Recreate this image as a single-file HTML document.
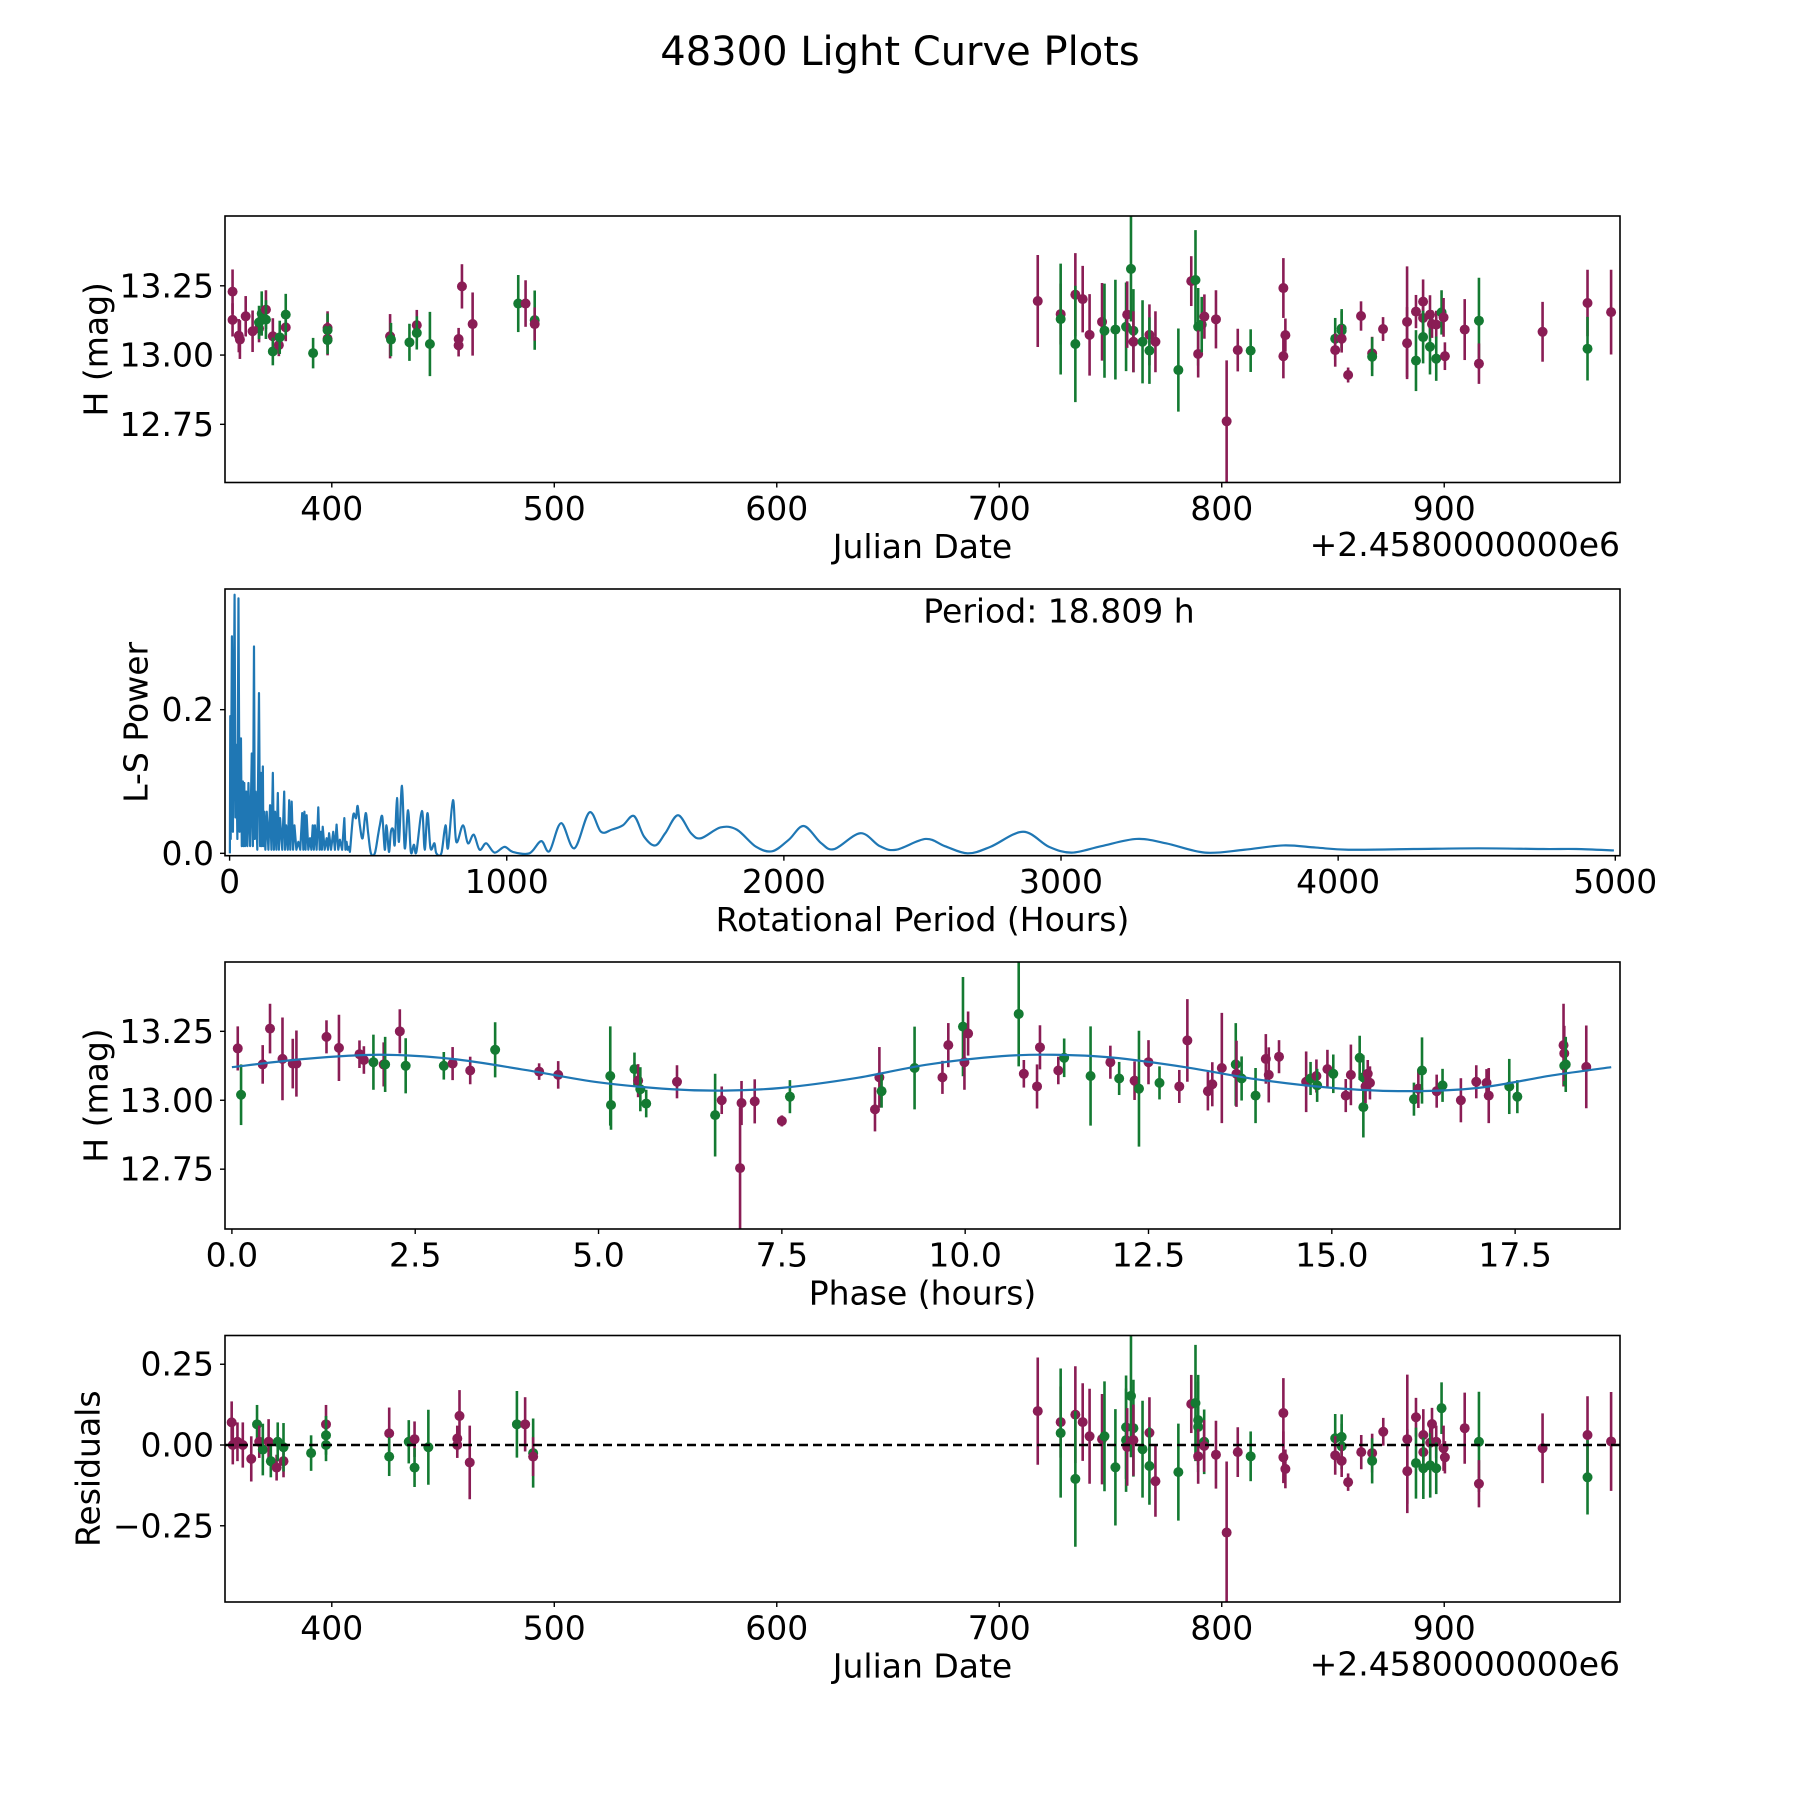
<!DOCTYPE html>
<html><head><meta charset="utf-8"><title>48300 Light Curve Plots</title>
<style>
html,body{margin:0;padding:0;background:#fff;}
svg{display:block;font-family:"DejaVu Sans","Liberation Sans",sans-serif;}
</style></head>
<body>
<svg id="fig" xmlns="http://www.w3.org/2000/svg" width="1800" height="1800" viewBox="0 0 1800 1800">
<rect x="0" y="0" width="1800" height="1800" fill="#fff"/>
<text x="900" y="52" font-size="40" text-anchor="middle" dominant-baseline="central">48300 Light Curve Plots</text>
</svg>
<script>
// ---- Panel 1: raw light curve (JD offset from 2458000) ----
const jd=[355.4,355.4,358.2,358.7,361.3,364.4,367.3,367.3,368.5,370.4,370.4,373.5,373.5,376.2,376.6,379.3,379.3,391.6,398.1,398.1,398.1,398.1,426.2,426.6,434.9,438.2,438.2,444.1,457,457,458.5,463.3,483.8,487.1,491.2,491.2,
717.3,727.6,727.6,734.2,734.2,737.5,740.6,746.2,747.3,752.2,757,757.5,759.2,760.3,760.3,764.4,767.5,767.5,770.2,780.5,786.3,788.2,789.4,789.4,791,792.2,797.4,802.2,807.2,813,827.7,828.6,827.7,851,851,853.9,853.9,853.9,856.8,862.6,867.6,867.6,872.5,883.3,883.3,887.3,887.3,890.5,890.5,890.5,893.6,893.6,894.5,896.4,896.4,898.8,899.7,900.3,909.2,915.6,915.6,944.2,964.4,964.4,975];
const mag=[13.229,13.127,13.07,13.056,13.14,13.086,13.096,13.118,13.15,13.164,13.128,13.068,13.013,13.036,13.064,13.1,13.146,13.007,13.098,13.09,13.059,13.054,13.068,13.056,13.046,13.108,13.08,13.04,13.058,13.035,13.248,13.112,13.186,13.186,13.126,13.112,
13.195,13.148,13.13,13.218,13.04,13.202,13.073,13.12,13.088,13.092,13.102,13.146,13.311,13.088,13.048,13.048,13.073,13.016,13.048,12.946,13.267,13.271,13.102,13.004,13.11,13.139,13.129,12.761,13.018,13.016,13.242,13.072,12.996,13.059,13.018,13.096,13.088,13.059,12.928,13.141,13.006,12.994,13.094,13.12,13.043,13.157,12.98,13.193,13.134,13.065,13.146,13.03,13.112,13.11,12.987,13.154,13.136,12.996,13.092,13.124,12.969,13.084,13.188,13.023,13.155];
const err=[0.08,0.06,0.06,0.07,0.073,0.075,0.05,0.06,0.08,0.07,0.07,0.065,0.05,0.04,0.06,0.05,0.075,0.055,0.06,0.06,0.06,0.05,0.08,0.06,0.067,0.055,0.06,0.116,0.04,0.04,0.08,0.114,0.103,0.084,0.107,0.06,
0.166,0.11,0.2,0.15,0.21,0.12,0.147,0.14,0.17,0.18,0.16,0.12,0.19,0.15,0.11,0.15,0.11,0.12,0.11,0.15,0.09,0.18,0.14,0.085,0.1,0.08,0.105,0.22,0.077,0.077,0.108,0.06,0.08,0.075,0.06,0.07,0.07,0.05,0.027,0.053,0.06,0.07,0.043,0.2,0.13,0.06,0.11,0.08,0.07,0.095,0.07,0.1,0.05,0.05,0.08,0.08,0.07,0.05,0.11,0.155,0.073,0.108,0.12,0.115,0.153];
const band=[0,0,0,0,0,0,0,1,1,0,1,0,1,0,1,0,1,1,0,1,0,1,0,1,1,0,1,1,0,0,0,0,1,0,1,0,
0,0,1,0,1,0,0,0,1,1,1,0,1,1,0,1,0,1,0,1,0,1,1,0,1,0,0,0,0,1,0,0,0,1,0,1,1,0,0,0,0,1,0,0,0,0,1,0,0,1,0,1,0,0,1,1,0,0,0,1,0,0,0,1,0];

// ---- Panel 2: Lomb-Scargle periodogram ----
const lsPeriod=[1,2.4,4,8.4,12,18,21,24,28,32,36,41,44,48,50,53,56,60,64,68,74,80,84,88,91,94,100,106,110,113,116,120,122,125,129,134,140,146,151,156,160,164,169,174,178,182,190,197,200,204,210,215,219,224,229,234,241,248,255,262,266,270,274,278,284,290,295,300,304,308,314,320,325,330,333,336,343,350,355,359,366,374,380,386,392,398,406,414,418,422,426,430,
434,446,456,462,470,480,491,500,510,524,536,542,551,560,566,575,582,590,596,604,611,622,632,644,654,665,674,694,704,714,725,739,746,764,779,788,806,818,842,860,881,902,926,956,992,1022,1082,1124,1154,1196,1244,1298,1340,
1379,1419,1459,1496,1536,1572,1618,1665,1701,1771,1830,1900,1959,2018,2072,2135,2182,2276,2346,2405,2511,2581,2663,2745,2863,2957,3039,3145,3273,3379,3520,3661,3802,3920,4037,4272,4507,4741,4859,4995];
const lsPower=[0.0,0.191,0.02,0.302,0.03,0.36,0.05,0.151,0.02,0.355,
0.03,0.16,0.01,0.1,0.01,0.098,0.01,0.086,0.01,0.098,
0.01,0.139,0.01,0.288,0.02,0.086,0.005,0.223,0.01,0.112,
0.01,0.121,0.01,0.058,0.005,0.058,0.005,0.067,0.005,0.112,
0.005,0.058,0.005,0.084,0.005,0.049,0.005,0.086,0.005,0.039,
0.005,0.074,0.005,0.072,0.005,0.039,0.005,0.016,0.005,0.056,
0.005,0.058,0.005,0.053,0.005,0.021,0.005,0.039,0.005,0.039,
0.005,0.064,0.005,0.03,0.005,0.037,0.005,0.021,0.005,0.028,
0.005,0.03,0.005,0.04,0.005,0.019,0.005,0.049,0.005,0.016,
0.005,0.009,
0.002,0.053,0.049,0.066,0.039,0.021,0.056,0.028,0.0,0.0,0.026,0.039,0.051,0.005,0.039,0.002,0.03,0.033,0.012,0.077,0.016,0.094,0.007,0.06,0.002,0.012,0.002,0.059,0.005,0.056,0.007,0.014,0.0,0.0,0.039,0.007,0.074,0.016,0.039,0.014,0.026,0.005,0.014,0.001,0.009,0.002,0.0,0.017,0.003,0.042,0.007,0.057,0.03,
0.033,0.039,0.052,0.023,0.011,0.028,0.053,0.028,0.021,0.036,0.033,0.009,0.003,0.019,0.038,0.014,0.006,0.028,0.01,0.005,0.02,0.01,0.0,0.009,0.03,0.009,0.001,0.01,0.02,0.014,0.001,0.005,0.011,0.008,0.005,0.006,0.007,0.006,0.006,0.004];

// ---- Panel 3: phase-folded light curve ----
const phase=[0.08,0.125,0.42,0.52,0.69,0.83,0.88,1.29,1.46,1.74,1.8,1.93,2.07,2.09,2.29,2.37,2.89,3.01,3.25,3.59,4.19,4.45,5.16,5.17,5.49,5.54,5.57,5.65,6.07,6.59,6.68,6.95,6.93,7.13,7.5,7.61,8.77,8.83,8.86,9.31,9.69,9.77,9.97,9.99,10.04,10.73,10.8,10.98,11.02,11.27,11.35,11.71,11.98,12.1,12.31,12.37,12.5,12.65,12.92,13.03,13.31,13.37,13.5,13.69,13.7,13.77,13.96,14.1,14.14,14.28,14.65,14.71,14.79,14.8,14.94,15.02,15.19,15.26,15.38,15.43,15.43,15.46,15.49,15.52,16.12,16.18,16.23,16.43,16.51,16.76,16.97,17.11,17.14,17.42,17.53,18.16,18.17,18.17,18.19,18.47];
const pmag=[13.188,13.02,13.13,13.26,13.15,13.133,13.133,13.23,13.19,13.167,13.146,13.138,13.13,13.13,13.25,13.125,13.125,13.133,13.108,13.183,13.104,13.092,13.088,12.983,13.113,13.071,13.04,12.988,13.067,12.946,13.0,12.99,12.754,12.996,12.925,13.013,12.967,13.083,13.033,13.117,13.083,13.2,13.267,13.138,13.242,13.313,13.096,13.05,13.192,13.108,13.154,13.088,13.138,13.079,13.071,13.042,13.138,13.063,13.05,13.217,13.033,13.058,13.117,13.13,13.096,13.079,13.017,13.15,13.092,13.158,13.067,13.079,13.088,13.054,13.113,13.096,13.017,13.092,13.154,12.975,13.083,13.05,13.096,13.063,13.004,13.042,13.108,13.033,13.054,13.0,13.067,13.063,13.017,13.05,13.013,13.2,13.125,13.17,13.13,13.121];
const perr=[0.08,0.11,0.07,0.09,0.15,0.09,0.12,0.06,0.12,0.05,0.05,0.1,0.08,0.1,0.08,0.1,0.05,0.06,0.05,0.1,0.03,0.05,0.18,0.09,0.06,0.06,0.08,0.05,0.06,0.15,0.05,0.08,0.22,0.08,0.02,0.06,0.08,0.11,0.06,0.15,0.06,0.08,0.18,0.1,0.08,0.19,0.05,0.08,0.08,0.05,0.07,0.18,0.06,0.06,0.07,0.21,0.08,0.06,0.06,0.15,0.07,0.08,0.2,0.15,0.12,0.08,0.1,0.09,0.1,0.06,0.11,0.06,0.06,0.06,0.07,0.07,0.06,0.11,0.08,0.11,0.08,0.06,0.05,0.06,0.06,0.07,0.12,0.06,0.06,0.08,0.06,0.05,0.1,0.1,0.06,0.15,0.07,0.1,0.1,0.15];
const pband=[0,1,0,0,0,0,0,0,0,0,0,1,0,1,0,1,1,0,0,1,0,0,1,1,1,0,1,1,0,1,0,0,0,0,0,1,0,0,1,1,0,0,1,0,0,1,0,0,0,0,1,1,0,1,0,1,0,1,0,0,0,0,0,1,0,1,1,0,0,0,0,1,0,1,0,1,0,0,1,1,1,0,0,0,1,0,1,0,1,0,0,0,0,1,1,0,1,0,1,0];
const fitPhase=[0,1,2,3,4,5,6,6.7,7.5,8.5,9.5,10.5,11.2,12,13,14,15,16,17,18,18.81];
const fitMag=[13.12,13.15,13.165,13.15,13.11,13.065,13.04,13.035,13.045,13.08,13.13,13.16,13.165,13.155,13.12,13.075,13.045,13.033,13.045,13.09,13.12];

// ---- Panel 4: residuals ----
const rjd=[355,355.5,357.6,360,363.8,366.4,367.4,369,371.6,372.6,375.2,375.7,378.3,378.3,390.7,397.4,397.4,397.4,425.8,425.8,434.6,437.2,437.2,443.4,456.4,456.4,457.4,462,483.2,486.9,490.5,490.5,
717.3,727.6,727.6,734.2,734.2,737.5,740.6,746.2,747.3,752.2,757,757,757.5,759.2,760.3,760.3,764.4,767.5,767.5,770.2,780.5,786.3,788.2,789.4,789.4,789.4,792.1,792.1,797.4,802.2,807.2,813,827.7,827.7,828.6,851,851,853.9,853.9,853.9,856.8,862.7,867.6,867.6,872.6,883.4,883.4,887.3,887.3,890.6,890.6,890.6,893.7,893.7,894.5,896.4,896.4,898.8,899.7,900.3,909.2,915.6,915.6,944.2,964.4,964.4,975];
const rval=[0.07,0,0.01,0,-0.043,0.064,0.01,-0.014,0.01,-0.05,-0.07,0.01,-0.05,-0.007,-0.025,0.064,0.03,0,0.036,-0.036,0.01,0.018,-0.07,-0.007,0.02,0,0.09,-0.054,0.064,0.064,-0.025,-0.036,
0.105,0.071,0.037,0.094,-0.105,0.071,0.027,0.018,0.027,-0.069,0.055,0.015,-0.006,0.152,0.052,0.015,-0.013,0.038,-0.065,-0.112,-0.084,0.127,0.13,0.077,0.056,-0.035,0.01,-0.003,-0.03,-0.271,-0.022,-0.035,0.099,-0.038,-0.074,0.021,-0.032,0.025,-0.004,-0.049,-0.115,-0.022,-0.025,-0.049,0.041,0.018,-0.081,0.086,-0.056,0.031,-0.022,-0.072,0.007,-0.063,0.065,0.01,-0.072,0.114,-0.01,-0.038,0.052,0.01,-0.12,-0.01,0.031,-0.1,0.011];
const rerr=[0.065,0.06,0.06,0.07,0.07,0.06,0.05,0.08,0.07,0.05,0.04,0.06,0.05,0.075,0.055,0.06,0.06,0.05,0.08,0.06,0.067,0.055,0.06,0.116,0.04,0.04,0.08,0.114,0.103,0.084,0.107,0.06,
0.166,0.11,0.2,0.15,0.21,0.12,0.147,0.14,0.17,0.18,0.16,0.16,0.12,0.19,0.15,0.11,0.15,0.11,0.12,0.11,0.15,0.09,0.18,0.14,0.14,0.085,0.1,0.08,0.105,0.22,0.077,0.077,0.108,0.08,0.06,0.075,0.06,0.07,0.07,0.05,0.027,0.053,0.06,0.07,0.043,0.2,0.13,0.06,0.11,0.08,0.07,0.095,0.07,0.1,0.05,0.05,0.08,0.08,0.07,0.05,0.11,0.155,0.073,0.108,0.12,0.115,0.153];
const rband=[0,0,0,0,0,1,0,1,0,1,0,1,0,1,1,0,1,1,0,1,1,0,1,1,0,0,0,0,1,0,1,0,
0,0,1,0,1,0,0,0,1,1,1,1,0,1,1,0,1,0,1,0,1,0,1,1,1,0,1,0,0,0,0,1,0,0,0,1,0,1,1,0,0,0,0,1,0,0,0,0,1,0,0,1,0,1,0,0,1,1,0,0,0,1,0,0,0,1,0];

const xTicks1=[400,500,600,700,800,900];
const yTicksMag=[12.75,13.00,13.25];
const yTickMagLabels=["12.75","13.00","13.25"];
const xTicksLS=[0,1000,2000,3000,4000,5000];
const yTicksLS=[0.0,0.2];
const yTickLSLabels=["0.0","0.2"];
const xTicksPhase=[0,2.5,5,7.5,10,12.5,15,17.5];
const xTickPhaseLabels=["0.0","2.5","5.0","7.5","10.0","12.5","15.0","17.5"];
const yTicksRes=[-0.25,0,0.25];
const yTickResLabels=["\u22120.25","0.00","0.25"];

const NS="http://www.w3.org/2000/svg";
const svg=document.getElementById('fig');
const COLORS=["#8a1d55","#147a32"];
function mk(tag,attrs,parent){const e=document.createElementNS(NS,tag);for(const k in attrs)e.setAttribute(k,attrs[k]);(parent||svg).appendChild(e);return e;}
function scale(d0,d1,r0,r1){return v=>r0+(v-d0)/(d1-d0)*(r1-r0);}
const L=225,R=1620;
function panel(name,top,bot,xlim,ylim){
  const g=mk('g',{});
  
  
  const cp=mk('clipPath',{id:'clip-'+name},g);
  mk('rect',{x:L,y:top,width:R-L,height:bot-top},cp);
  const plot=mk('g',{'clip-path':'url(#clip-'+name+')'},g);
  
  
  return {g,plot,top,bot,x:scale(xlim[0],xlim[1],L,R),y:scale(ylim[0],ylim[1],bot,top)};
}
function frame(p){
  const r=mk('rect',{x:L,y:p.top,width:R-L,height:p.bot-p.top,fill:'none',stroke:'#000','stroke-width':1.6},p.g);
  
  
}
function xticks(p,vals,labels){
  vals.forEach((v,i)=>{
    const X=p.x(v);
    const t=mk('line',{x1:X,x2:X,y1:p.bot,y2:p.bot+5,stroke:'#000','stroke-width':1.4},p.g);
    
    
    const tx=mk('text',{x:X,y:p.bot+26,'font-size':33,'text-anchor':'middle','dominant-baseline':'central'},p.g);
    tx.textContent=labels?labels[i]:String(v);
    
    
  });
}
function yticks(p,vals,labels){
  vals.forEach((v,i)=>{
    const Y=p.y(v);
    const t=mk('line',{x1:L-5,x2:L,y1:Y,y2:Y,stroke:'#000','stroke-width':1.4},p.g);
    
    
    const tx=mk('text',{x:L-11,y:Y,'font-size':33,'text-anchor':'end','dominant-baseline':'central'},p.g);
    tx.textContent=labels[i];
    
    
  });
}
function xlabel(p,text,name){
  const t=mk('text',{x:(L+R)/2,y:p.bot+64,'font-size':33,'text-anchor':'middle','dominant-baseline':'central'},p.g);
  t.textContent=text;
  
  
}
function ylabel(p,text,cx,name){
  const cy=(p.top+p.bot)/2;
  const t=mk('text',{x:cx,y:cy,'font-size':33,'text-anchor':'middle','dominant-baseline':'central',transform:'rotate(-90 '+cx+' '+cy+')'},p.g);
  t.textContent=text;
  
  
}
function offsetText(p){
  const t=mk('text',{x:R,y:p.bot+62,'font-size':33,'text-anchor':'end','dominant-baseline':'central'},p.g);
  t.textContent='+2.4580000000e6';
  
  
}
function errorbars(p,xs,ys,es,bs,name){
  for(let i=0;i<xs.length;i++){
    const X=p.x(xs[i]),c=COLORS[bs[i]];
    const l=mk('line',{x1:X,x2:X,y1:p.y(ys[i]-es[i]),y2:p.y(ys[i]+es[i]),stroke:c,'stroke-width':2.6},p.plot);
    
    
    const m=mk('circle',{cx:X,cy:p.y(ys[i]),r:5,fill:c},p.plot);
    
    
  }
}
function smoothPath(pts,startIdx){
  let d='M'+pts[0][0].toFixed(2)+' '+pts[0][1].toFixed(2);
  for(let i=0;i<pts.length-1;i++){
    const a=pts[i],b=pts[i+1];
    if(i<startIdx){d+='L'+b[0].toFixed(2)+' '+b[1].toFixed(2);continue;}
    const p0=pts[Math.max(0,i-1)],p4=pts[Math.min(pts.length-1,i+2)];
    const c1=[a[0]+(b[0]-p0[0])/6,a[1]+(b[1]-p0[1])/6],c2=[b[0]-(p4[0]-a[0])/6,b[1]-(p4[1]-a[1])/6];
    d+='C'+c1[0].toFixed(2)+' '+c1[1].toFixed(2)+' '+c2[0].toFixed(2)+' '+c2[1].toFixed(2)+' '+b[0].toFixed(2)+' '+b[1].toFixed(2);
  }
  return d;
}

// Panel 1
const p1=panel('raw-light-curve-panel',216,482.5,[352,979],[12.54,13.502]);
errorbars(p1,jd,mag,err,band,'magnitude');
frame(p1);xticks(p1,xTicks1);yticks(p1,yTicksMag,yTickMagLabels);
xlabel(p1,'Julian Date','x-axis-title');offsetText(p1);ylabel(p1,'H (mag)',96,'y-axis-title');

// Panel 2
const p2=panel('periodogram-panel',589,855.7,[-16.6,5017],[-0.0033,0.368]);
const lsPts=lsPeriod.map((v,i)=>[p2.x(v),p2.y(lsPower[i])]);
let smoothStart=lsPeriod.findIndex(v=>v>=434);
const ls=mk('path',{d:smoothPath(lsPts,smoothStart),fill:'none',stroke:'#1f77b4','stroke-width':2.2,'stroke-linejoin':'round'},p2.plot);


frame(p2);xticks(p2,xTicksLS);yticks(p2,yTicksLS,yTickLSLabels);
xlabel(p2,'Rotational Period (Hours)','x-axis-title');ylabel(p2,'L-S Power',136,'y-axis-title');
const per=mk('text',{x:1059,y:611,'font-size':33,'text-anchor':'middle','dominant-baseline':'central'},p2.g);
per.textContent='Period: 18.809 h';



// Panel 3
const p3=panel('phase-folded-panel',962,1229,[-0.094,18.93],[12.533,13.5015]);
const fpts=fitPhase.map((v,i)=>[p3.x(v),p3.y(fitMag[i])]);
errorbars(p3,phase,pmag,perr,pband,'phase');
const fit=mk('path',{d:smoothPath(fpts,0),fill:'none',stroke:'#1f77b4','stroke-width':2.2},p3.plot);


frame(p3);xticks(p3,xTicksPhase,xTickPhaseLabels);yticks(p3,yTicksMag,yTickMagLabels);
xlabel(p3,'Phase (hours)','x-axis-title');ylabel(p3,'H (mag)',96,'y-axis-title');

// Panel 4
const p4=panel('residuals-panel',1335.5,1602,[352,979],[-0.486,0.339]);
errorbars(p4,rjd,rval,rerr,rband,'residual');
const zl=mk('line',{x1:L,x2:R,y1:p4.y(0),y2:p4.y(0),stroke:'#000','stroke-width':2.4,'stroke-dasharray':'9,5'},p4.plot);


frame(p4);xticks(p4,xTicks1);yticks(p4,yTicksRes,yTickResLabels);
xlabel(p4,'Julian Date','x-axis-title');offsetText(p4);ylabel(p4,'Residuals',88,'y-axis-title');
</script>
</body></html>
